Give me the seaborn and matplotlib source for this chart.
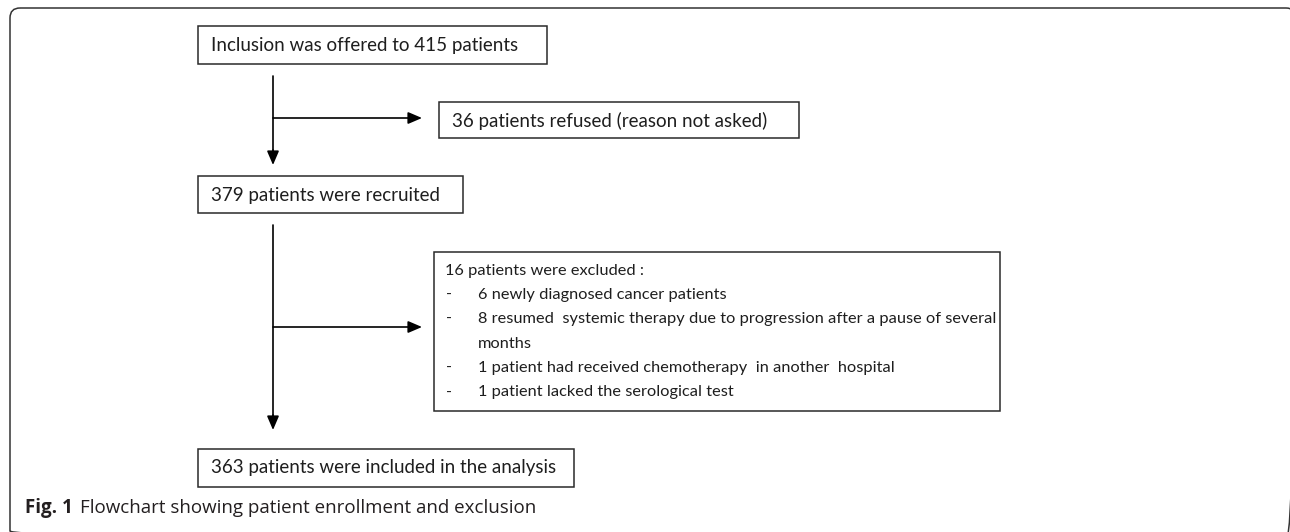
import matplotlib
matplotlib.use("Agg")
import matplotlib.pyplot as plt
import seaborn as sns
import pandas as pd
from matplotlib.patches import FancyBboxPatch, Rectangle

# ---- data ----
offered = 415
refused = 36
recruited = 379
excluded_total = 16
excluded_counts = [6, 8, 1, 1]
excluded_reasons = [
    "newly diagnosed cancer patients",
    "resumed  systemic therapy due to progression after a pause of several",
    "patient had received chemotherapy  in another  hospital",
    "patient lacked the serological test",
]
included = 363
caption_bold = "Fig. 1"
caption_text = "Flowchart showing patient enrollment and exclusion"

# ---- style ----
sns.set_theme(style="white")
plt.rcParams["font.family"] = ["Lato", "DejaVu Sans"]

W, H = 1290, 532
fig = plt.figure(figsize=(W / 100, H / 100), dpi=100)
ax = fig.add_axes([0, 0, 1, 1])

EDGE = "#2a2a2a"
TXT = "#1e1e1e"
FS = 13.5
FS_SMALL = 11.8

# outer frame (right and bottom edges run just off the image)
frame = FancyBboxPatch((10, 8), 1286, 533, boxstyle="round,pad=0,rounding_size=10",
                       fill=False, ec="#333333", lw=1.1, clip_on=True)
ax.add_patch(frame)

def box(x0, y0, x1, y1):
    ax.add_patch(Rectangle((x0, y0), x1 - x0, y1 - y0, fill=False, ec=EDGE, lw=1.1))

# boxes
box(198, 26, 547, 64)
ax.text(211, 45.5, f"Inclusion was offered to {offered} patients", fontsize=FS, color=TXT, va="center")

box(439, 102, 799, 138)
ax.text(452, 120.5, f"{refused} patients refused (reason not asked)", fontsize=FS, color=TXT, va="center")

box(198, 176, 463, 213)
ax.text(211, 195, f"{recruited} patients were recruited", fontsize=FS, color=TXT, va="center")

box(434, 252, 1000, 411)
lines = [(None, f"{excluded_total} patients were excluded :")]
for c, r in zip(excluded_counts, excluded_reasons):
    lines.append(("-", f"{c} {r}"))
    if r.endswith("several"):
        lines.append((None, "months"))
y = 270.5
first = True
for dash, t in lines:
    if first:
        ax.text(445, y, t, fontsize=FS_SMALL, color=TXT, va="center")
        first = False
    else:
        if dash:
            ax.text(446, y, dash, fontsize=FS_SMALL, color=TXT, va="center")
        ax.text(478, y, t, fontsize=FS_SMALL, color=TXT, va="center")
    y += 24.4

box(198, 449, 574, 487)
ax.text(211, 468, f"{included} patients were included in the analysis", fontsize=FS, color=TXT, va="center")

# connectors (trunk lines via seaborn)
trunks = pd.DataFrame({"x": [273, 273, 273, 273], "y": [76, 155, 225, 420], "seg": [0, 0, 1, 1]})
for s, g in trunks.groupby("seg"):
    sns.lineplot(data=g, x="x", y="y", ax=ax, color="black", lw=1.2, sort=False, estimator=None)
ax.set_xlim(0, W)
ax.set_ylim(H, 0)
ax.axis("off")

arrow_kw = dict(arrowstyle="-|>,head_length=0.7,head_width=0.3", color="black", lw=1.2,
                shrinkA=0, shrinkB=0)
ax.annotate("", xy=(273, 165), xytext=(273, 150), arrowprops=arrow_kw)
ax.annotate("", xy=(273, 430), xytext=(273, 415), arrowprops=arrow_kw)
ax.annotate("", xy=(422, 118), xytext=(273, 118), arrowprops=arrow_kw)
ax.annotate("", xy=(422, 327), xytext=(273, 327), arrowprops=arrow_kw)

# caption
cap = ax.text(25, 508, caption_bold, fontsize=13.5, fontweight="bold", color="#231f20",
              va="center", family=["Open Sans", "DejaVu Sans"])
fig.canvas.draw()
bb = cap.get_window_extent()
x_after = ax.transData.inverted().transform((bb.x1, bb.y0))[0]
ax.text(x_after + 7, 508, caption_text, fontsize=13.5, color="#231f20", va="center",
        family=["Open Sans", "DejaVu Sans"])

fig.savefig("out.png", dpi=100)
